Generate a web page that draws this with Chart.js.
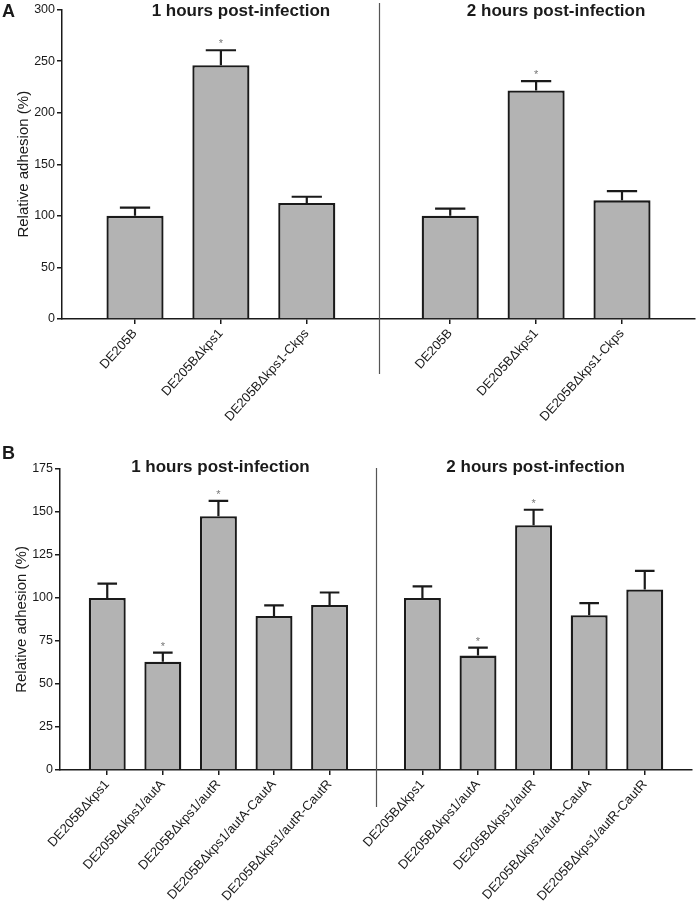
<!DOCTYPE html>
<html>
<head>
<meta charset="utf-8">
<script src="https://cdn.jsdelivr.net/npm/chart.js@4.4.0/dist/chart.umd.min.js"></script>
<style>
  html, body { margin: 0; padding: 0; background: #fff; }
  #wrap { position: relative; width: 697px; height: 911px; }
  .panel { position: absolute; left: 0; width: 697px; }
  #panelA { top: 0; height: 445px; }
  #panelB { top: 445px; height: 466px; }
</style>
</head>
<body>
<div id="wrap">
  <div class="panel" id="panelA"><canvas id="chartA"></canvas></div>
  <div class="panel" id="panelB"><canvas id="chartB"></canvas></div>
</div>
<script>
const groupTitles = ["1 hours post-infection", "2 hours post-infection"];

// panel A
const strainsA = ["DE205B", "DE205BΔkps1", "DE205BΔkps1-Ckps"];
const adhesionA1h = [100, 246, 112.5];
const errorA1h = [8, 14.5, 6];
const sigA1h = [false, true, false];
const adhesionA2h = [100, 221.5, 115];
const errorA2h = [7, 9, 9];
const sigA2h = [false, true, false];
const yTicksA = [0, 50, 100, 150, 200, 250, 300];

// panel B
const strainsB = ["DE205BΔkps1", "DE205BΔkps1/autA", "DE205BΔkps1/autR", "DE205BΔkps1/autA-CautA", "DE205BΔkps1/autR-CautR"];
const adhesionB1h = [100, 63, 147.5, 89.5, 96];
const errorB1h = [8.3, 5.2, 9, 6.2, 7.2];
const sigB1h = [false, true, true, false, false];
const adhesionB2h = [100, 66.5, 142.3, 90, 105];
const errorB2h = [6.8, 4.6, 9, 7, 10.8];
const sigB2h = [false, true, true, false, false];
const yTicksB = [0, 25, 50, 75, 100, 125, 150, 175];

const GROUP_GAP = 1.67; // extra space between the two time groups (in bar slots)
const EDGE = 0.85;      // space before first / after last bar
const FONT = "'Liberation Sans', Arial, sans-serif";
const INK = "#1a1a1a";

Chart.defaults.font.family = FONT;

// position of bar i in group g on the linear x scale
function pos(n, g, i) {
  return i + g * (n - 1 + GROUP_GAP);
}

const errorBars = {
  id: "errorBars",
  afterDatasetsDraw(chart) {
    const ctx = chart.ctx;
    const yScale = chart.scales.y;
    chart.data.datasets.forEach((ds, d) => {
      const meta = chart.getDatasetMeta(d);
      meta.data.forEach((bar, i) => {
        const top = yScale.getPixelForValue(ds.data[i].y + ds.errors[i]);
        const half = bar.width * 0.265;
        ctx.save();
        ctx.strokeStyle = INK;
        ctx.lineWidth = 2.2;
        ctx.beginPath();
        ctx.moveTo(bar.x, bar.y);
        ctx.lineTo(bar.x, top);
        ctx.moveTo(bar.x - half, top);
        ctx.lineTo(bar.x + half, top);
        ctx.stroke();
        if (ds.sig[i]) {
          ctx.fillStyle = "#777";
          ctx.font = "11px " + FONT;
          ctx.textAlign = "center";
          ctx.textBaseline = "alphabetic";
          ctx.fillText("*", bar.x, top - 3);
        }
        ctx.restore();
      });
    });
  }
};

const decor = {
  id: "decor",
  afterDraw(chart, args, opts) {
    const ctx = chart.ctx;
    const x = chart.scales.x;
    const n = opts.n;
    ctx.save();
    // separator between the groups
    const sx = Math.round(x.getPixelForValue((pos(n, 0, n - 1) + pos(n, 1, 0)) / 2)) + 0.5;
    ctx.strokeStyle = "#555";
    ctx.lineWidth = 1.2;
    ctx.beginPath();
    ctx.moveTo(sx, opts.sepTop);
    ctx.lineTo(sx, opts.sepBottom);
    ctx.stroke();
    // group titles
    ctx.fillStyle = INK;
    ctx.font = "bold 17px " + FONT;
    ctx.textAlign = "center";
    ctx.textBaseline = "middle";
    groupTitles.forEach((t, g) => {
      const cx = x.getPixelForValue(pos(n, g, (n - 1) / 2)) + opts.titleShift;
      ctx.fillText(t, cx, opts.titleY);
    });
    // panel letter
    ctx.font = "bold 18px " + FONT;
    ctx.textAlign = "left";
    ctx.fillText(opts.letter, 2, opts.letterY);
    ctx.restore();
  }
};

function makePanel(canvasId, p) {
  const n = p.strains.length;
  const positions = [];
  const labels = [];
  [0, 1].forEach(g => p.strains.forEach((s, i) => {
    positions.push(pos(n, g, i));
    labels.push(s);
  }));
  const datasets = p.values.map((vals, g) => ({
    data: vals.map((v, i) => ({ x: pos(n, g, i), y: v })),
    errors: p.errors[g],
    sig: p.sig[g],
    backgroundColor: "#b3b3b3",
    borderColor: INK,
    borderWidth: 2.3,
    grouped: false,
    categoryPercentage: 1,
    barPercentage: 0.665
  }));

  return new Chart(document.getElementById(canvasId), {
    type: "bar",
    data: { datasets },
    options: {
      responsive: true,
      maintainAspectRatio: false,
      animation: false,
      layout: { padding: p.padding },
      plugins: {
        legend: { display: false },
        tooltip: { enabled: false },
        decor: p.decor
      },
      scales: {
        x: {
          type: "linear",
          offset: false,
          min: -EDGE,
          max: pos(n, 1, n - 1) + EDGE,
          afterBuildTicks: s => { s.ticks = positions.map(v => ({ value: v })); },
          afterFit: s => { s.height = p.xHeight; },
          border: { display: true, color: INK, width: 1.5 },
          grid: { offset: false, drawOnChartArea: false, drawTicks: true, tickLength: 5, color: INK, lineWidth: 1.5 },
          ticks: {
            autoSkip: false,
            minRotation: 48,
            maxRotation: 48,
            padding: 2,
            color: INK,
            font: { size: 13 },
            callback: (v, i) => labels[i]
          }
        },
        y: {
          min: p.yTicks[0],
          max: p.yTicks[p.yTicks.length - 1],
          afterBuildTicks: s => { s.ticks = p.yTicks.map(v => ({ value: v })); },
          afterFit: s => { s.width = p.yWidth; },
          border: { display: true, color: INK, width: 1.5 },
          grid: { drawOnChartArea: false, drawTicks: true, tickLength: 5, color: INK, lineWidth: 1.5 },
          ticks: { color: INK, font: { size: 12.5 }, padding: 2 },
          title: {
            display: true,
            text: "Relative adhesion (%)",
            color: INK,
            font: { size: 15 },
            padding: { top: p.titlePad, bottom: 0 }
          }
        }
      }
    },
    plugins: [errorBars, decor]
  });
}

makePanel("chartA", {
  strains: strainsA,
  values: [adhesionA1h, adhesionA2h],
  errors: [errorA1h, errorA2h],
  sig: [sigA1h, sigA2h],
  yTicks: yTicksA,
  padding: { left: 0, right: 2, top: 9, bottom: 0 },
  yWidth: 62,
  xHeight: 126,
  titlePad: 15,
  decor: { n: strainsA.length, letter: "A", letterY: 12, titleY: 11, titleShift: 20, sepTop: 3, sepBottom: 374 }
});

makePanel("chartB", {
  strains: strainsB,
  values: [adhesionB1h, adhesionB2h],
  errors: [errorB1h, errorB2h],
  sig: [sigB1h, sigB2h],
  yTicks: yTicksB,
  padding: { left: 0, right: 5, top: 24, bottom: 0 },
  yWidth: 60,
  xHeight: 141,
  titlePad: 13,
  decor: { n: strainsB.length, letter: "B", letterY: 9, titleY: 22, titleShift: 2, sepTop: 23, sepBottom: 362 }
});
</script>
</body>
</html>
